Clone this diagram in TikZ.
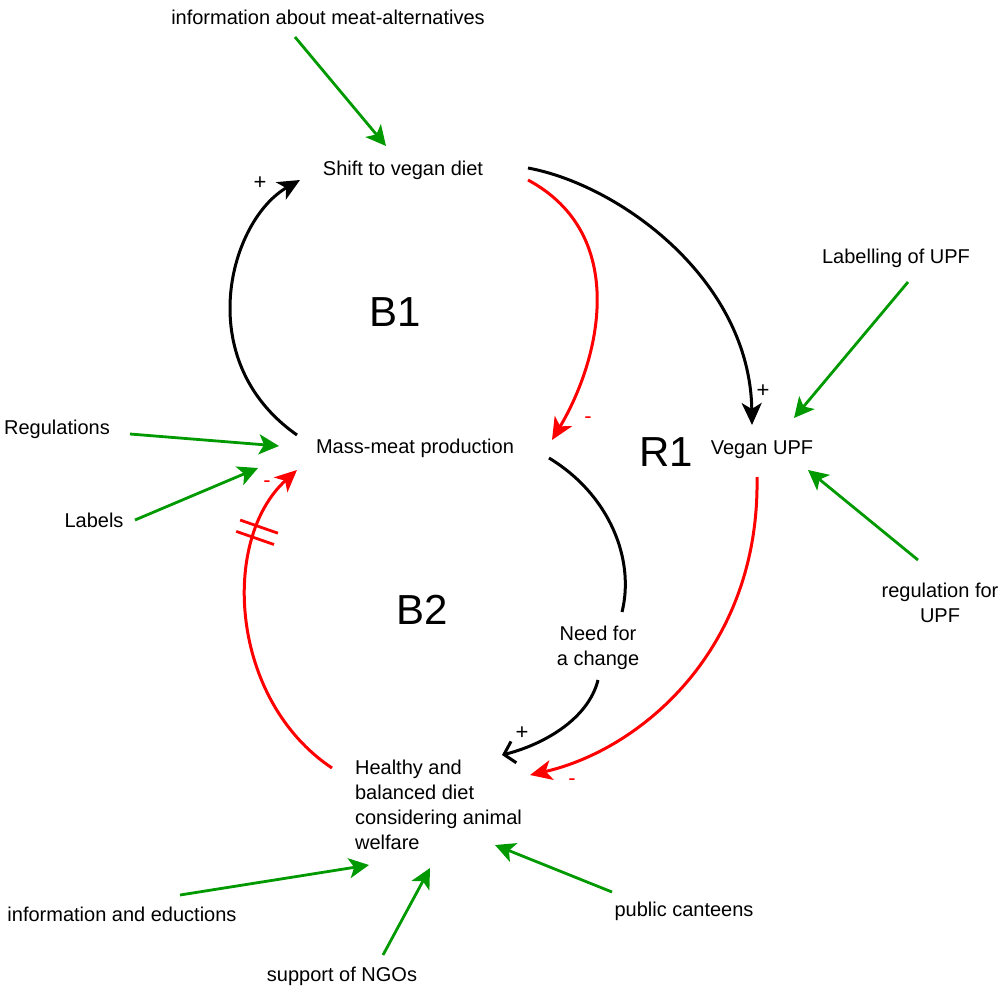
\documentclass[tikz,border=0pt]{standalone}
\usepackage{fontspec}
\setmainfont{Liberation Sans}
\usetikzlibrary{arrows.meta,decorations.markings}
\definecolor{linkgreen}{RGB}{0,153,0}
\definecolor{linkred}{RGB}{255,0,0}

\begin{document}
\begin{tikzpicture}[x=0.5pt,y=-0.5pt,
  every node/.style={font=\fontsize{10}{12.5}\selectfont, inner sep=0pt},
  var/.style={align=center},
  loopname/.style={font=\fontsize{21}{24}\selectfont},
  polarity/.style={font=\fontsize{11}{12}\selectfont},
  link/.style={line width=1.5pt, -{Stealth[length=11pt,width=10pt,inset=3pt]}},
  pos link/.style={link, draw=black},
  neg link/.style={link, draw=linkred},
  driver/.style={line width=1.4pt, draw=linkgreen, -{Stealth[length=10pt,width=10pt,inset=2.5pt]}},
  delay/.style={postaction={decorate}, decoration={markings,
    mark=at position #1 with {\draw[line width=1.4pt, draw=linkred, -] (-6,-20) -- (-6,20) (6,-20) -- (6,20);}}}
]
\useasboundingbox (0,0) rectangle (1000,990);

% variables of the loops
\node[var] (shift)   at (403,170) {Shift to vegan diet};
\node[var] (mass)    at (415,448) {Mass-meat production};
\node[var] (vegan)   at (762,450) {Vegan UPF};
\node[var] (need)    at (598,648) {Need for\\a change};
\node[align=left] (healthy) at (438.5,804.5) {Healthy and\\balanced diet\\considering animal\\welfare};

% external drivers
\node[var] (info)     at (328,17)  {information about meat-alternatives};
\node[var] (labUPF)   at (896,258) {Labelling of UPF};
\node[var] (regs)     at (57,429)  {Regulations};
\node[var] (labels)   at (94,520)  {Labels};
\node[var] (regUPF)   at (940,603) {regulation for\\UPF};
\node[var] (infoEdu)  at (122,914) {information and eductions};
\node[var] (ngo)      at (342,976) {support of NGOs};
\node[var] (canteen)  at (684,911) {public canteens};

% loop names
\node[loopname] (B1) at (395,312) {B1};
\node[loopname] (B2) at (422,610) {B2};
\node[loopname] (R1) at (666,452) {R1};

% causal links
\draw[pos link] ([shift={(-118,-13)}]mass.center)
  .. controls +(-107,-75) and +(-70,40) .. ([shift={(-103,10)}]shift.center);
\draw[pos link] ([shift={(125,-2)}]shift.center)
  .. controls +(92,17) and +(-2,-145) .. ([shift={(-10,-25)}]vegan.center);
\draw[neg link] ([shift={(125,10)}]shift.center)
  .. controls +(102,55) and +(48,-80) .. ([shift={(137,-8)}]mass.center);
\draw[line width=1.5pt] ([shift={(134,10)}]mass.center)
  .. controls +(61,37) and +(13,-52) .. ([shift={(24,-36)}]need.center);
\draw[line width=1.5pt, -{Straight Barb[length=5pt,width=11pt]}] ([shift={(0,32)}]need.center)
  .. controls +(-10,40) and +(40,-10) .. ([shift={(63.5,-49.5)}]healthy.center);
\draw[neg link] ([shift={(-5,27)}]vegan.center)
  .. controls +(3,173) and +(110,-25) .. ([shift={(91.5,-29.5)}]healthy.center);
\draw[neg link, delay=0.78] ([shift={(-106.5,-36.5)}]healthy.center)
  .. controls +(-102,-68) and +(-77,70) .. ([shift={(-118,22)}]mass.center);

% polarities
\node[polarity] (p1) at (260,183) {+};
\node[polarity] (p2) at (763,391) {+};
\node[polarity] (p3) at (522,733) {+};
\node[polarity, text=linkred] (n1) at (588,420) {-};
\node[polarity, text=linkred] (n2) at (572,782) {-};
\node[polarity, text=linkred] (n3) at (267,484) {-};

% drivers acting on the variables
\draw[driver] ([shift={(-33,20)}]info.center) -- ([shift={(-17,-24)}]shift.center);
\draw[driver] ([shift={(12,24)}]labUPF.center) -- ([shift={(32,-32)}]vegan.center);
\draw[driver] ([shift={(73,5)}]regs.center) -- ([shift={(-136,-2)}]mass.center);
\draw[driver] ([shift={(41,0)}]labels.center) -- ([shift={(-157,20)}]mass.center);
\draw[driver] ([shift={(-22,-43)}]regUPF.center) -- ([shift={(46,20)}]vegan.center);
\draw[driver] ([shift={(58,-19)}]infoEdu.center) -- ([shift={(-69.5,60.5)}]healthy.center);
\draw[driver] ([shift={(41,-21)}]ngo.center) -- ([shift={(-8.5,63.5)}]healthy.center);
\draw[driver] ([shift={(-72,-19)}]canteen.center) -- ([shift={(56.5,40.5)}]healthy.center);
\end{tikzpicture}
\end{document}
